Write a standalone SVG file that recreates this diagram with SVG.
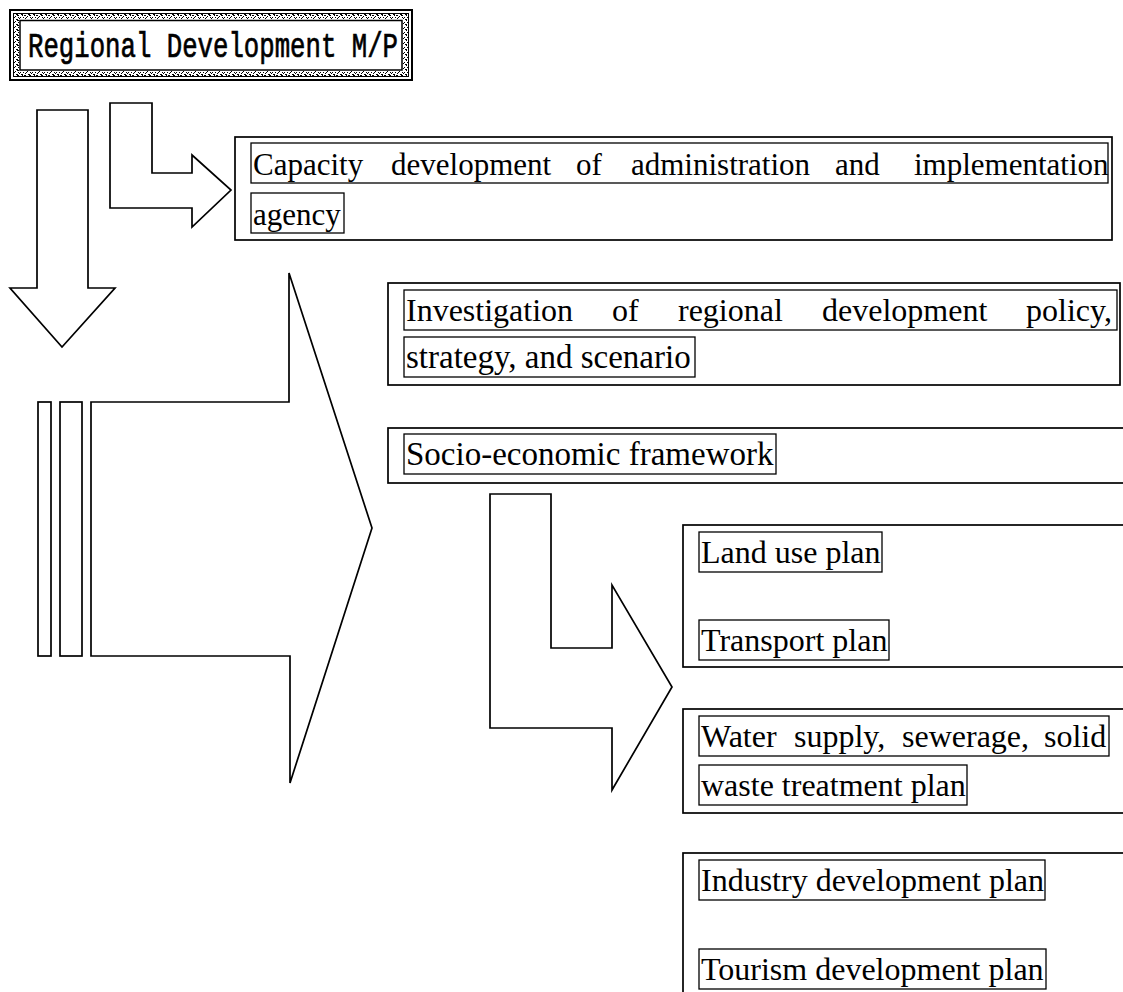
<svg xmlns="http://www.w3.org/2000/svg" width="1123" height="992" viewBox="0 0 1123 992">
  <style>
    .outer { fill: none; stroke: #000; stroke-width: 1.7; }
    .inner { fill: none; stroke: #000; stroke-width: 1.3; }
    .arrow { fill: #fff; stroke: #000; stroke-width: 1.7; stroke-linejoin: miter; }
    .t { font-family: "Liberation Serif", "Times New Roman", serif; font-size: 32px; fill: #000; }
    .t31 { font-size: 31px; }
    .t33 { font-size: 33px; }
    .title { font-family: "Liberation Mono", "DejaVu Sans Mono", monospace; font-size: 35px; fill: #000; stroke: #000; stroke-width: 0.7; }
  </style>
  <defs>
    <!-- stippled frame band of the title panel -->
    <pattern id="stipple" width="12" height="5" patternUnits="userSpaceOnUse">
      <rect width="12" height="5" fill="#fff"/>
      <g fill="#000">
        <rect x="0" y="0" width="2" height="1"/>
        <rect x="3" y="1" width="1" height="1"/>
        <rect x="5" y="0" width="2" height="1"/>
        <rect x="8" y="2" width="1" height="1"/>
        <rect x="10" y="0" width="1" height="1"/>
        <rect x="1" y="3" width="1" height="1"/>
        <rect x="4" y="4" width="2" height="1"/>
        <rect x="7" y="3" width="1" height="1"/>
        <rect x="9" y="4" width="2" height="1"/>
        <rect x="11" y="2" width="1" height="1"/>
        <rect x="2" y="2" width="1" height="1"/>
        <rect x="6" y="2" width="1" height="1"/>
      </g>
    </pattern>
  </defs>

  <rect width="1123" height="992" fill="#fff"/>

  <!-- block arrows -->
  <g id="connectors">
    <polygon class="arrow" points="37,110 88,110 88,288 115,288 62,347 10,288 37,288"/>
    <polygon class="arrow" points="110,103 152,103 152,173 192,173 192,155 231,190 192,227 192,208 110,208"/>
    <rect class="arrow" x="38" y="402" width="13" height="254"/>
    <rect class="arrow" x="60" y="402" width="22" height="254"/>
    <polygon class="arrow" points="91,402 289,402 289,273 372,528 290,783 290,656 91,656"/>
    <polygon class="arrow" points="490,494 551,494 551,648 612,648 612,585 672,687 612,790 612,728 490,728"/>
  </g>

  <!-- title panel -->
  <g id="title">
    <rect x="10" y="10" width="402" height="70" fill="none" stroke="#000" stroke-width="2"/>
    <rect x="13.5" y="13.5" width="395" height="63" fill="none" stroke="#000" stroke-width="1"/>
    <rect x="14" y="14" width="394" height="5" fill="url(#stipple)"/>
    <rect x="14" y="71" width="394" height="5" fill="url(#stipple)"/>
    <rect x="14" y="19" width="5" height="52" fill="url(#stipple)"/>
    <rect x="403" y="19" width="5" height="52" fill="url(#stipple)"/>
    <rect x="20" y="20.5" width="382" height="49.5" fill="none" stroke="#000" stroke-width="1.5"/>
    <text class="title" x="28" y="57" textLength="370" lengthAdjust="spacingAndGlyphs">Regional Development M/P</text>
  </g>

  <g id="capacity">
    <rect class="outer" x="235" y="137" width="877" height="103"/>
    <rect class="inner" x="251" y="143" width="857" height="40"/>
    <rect class="inner" x="251" y="193" width="93" height="40"/>
    <text class="t t31" y="175"><tspan x="253">Capacity</tspan><tspan x="391">development</tspan><tspan x="576">of</tspan><tspan x="631">administration</tspan><tspan x="835">and</tspan><tspan x="914">implementation</tspan></text>
    <text class="t t31" x="253" y="225">agency</text>
  </g>

  <g id="investigation">
    <rect class="outer" x="388" y="283" width="732" height="102"/>
    <rect class="inner" x="404" y="290" width="713" height="40"/>
    <rect class="inner" x="404" y="337" width="291" height="40"/>
    <text class="t" y="321"><tspan x="406">Investigation</tspan><tspan x="612">of</tspan><tspan x="678">regional</tspan><tspan x="822">development</tspan><tspan x="1026">policy,</tspan></text>
    <text class="t t33" x="406" y="368">strategy, and scenario</text>
  </g>

  <g id="socio">
    <rect class="outer" x="388" y="428" width="740" height="55"/>
    <rect class="inner" x="404" y="434" width="372" height="40"/>
    <text class="t t33" x="406" y="465">Socio-economic framework</text>
  </g>

  <g id="land-transport">
    <rect class="outer" x="683" y="525" width="445" height="142"/>
    <rect class="inner" x="699" y="532" width="183" height="40"/>
    <rect class="inner" x="699" y="620" width="190" height="40"/>
    <text class="t" x="701" y="563">Land use plan</text>
    <text class="t" x="701" y="651">Transport plan</text>
  </g>

  <g id="water">
    <rect class="outer" x="683" y="709" width="445" height="104"/>
    <rect class="inner" x="699" y="716" width="410" height="40"/>
    <rect class="inner" x="699" y="765" width="268" height="40"/>
    <text class="t" y="747"><tspan x="701">Water</tspan><tspan x="794">supply,</tspan><tspan x="902">sewerage,</tspan><tspan x="1044">solid</tspan></text>
    <text class="t" x="701" y="796">waste treatment plan</text>
  </g>

  <g id="industry-tourism">
    <rect class="outer" x="683" y="853" width="445" height="150"/>
    <rect class="inner" x="699" y="860" width="346" height="40"/>
    <rect class="inner" x="699" y="949" width="347" height="40"/>
    <text class="t" x="701" y="891">Industry development plan</text>
    <text class="t" x="701" y="980">Tourism development plan</text>
  </g>
</svg>
